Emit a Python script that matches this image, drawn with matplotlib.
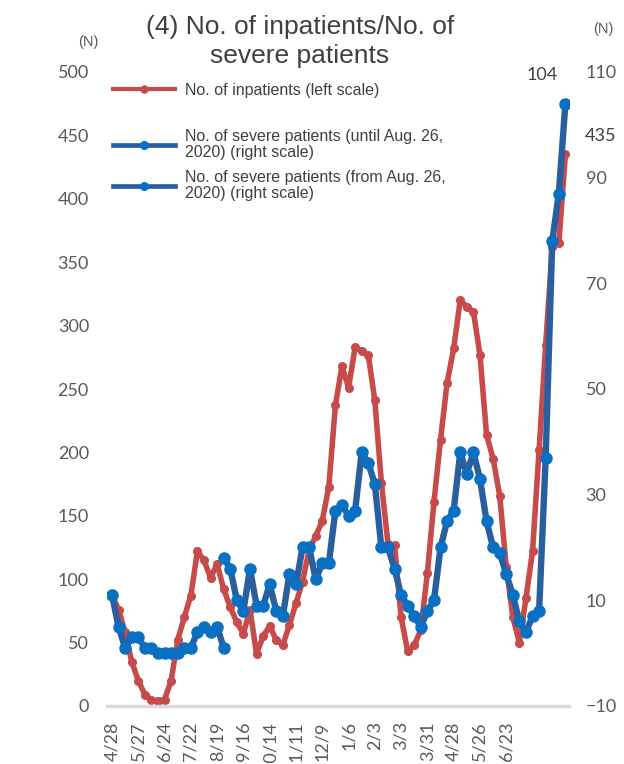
import matplotlib.pyplot as plt
from matplotlib.lines import Line2D

# weekly data, 4/28/2020 -> late Aug 2021 (70 weeks)
weeks = list(range(70))
tick_pos = list(range(0, 61, 4))
tick_labels = ['4/28', '5/27', '6/24', '7/22', '8/19', '9/16', '10/14', '11/11',
               '12/9', '1/6', '2/3', '3/3', '3/31', '4/28', '5/26', '6/23']

# No. of inpatients (left scale)
inpatients = [88, 76, 58, 35, 20, 9, 5, 4, 5, 20,
              52, 70, 87, 122, 115, 101, 112, 92, 78, 66,
              57, 76, 41, 55, 63, 52, 48, 64, 81, 98,
              123, 134, 146, 173, 237, 268, 251, 283, 280, 277,
              241, 176, 128, 127, 70, 43, 48, 60, 105, 161,
              210, 255, 282, 320, 315, 311, 277, 214, 195, 166,
              110, 70, 50, 85, 122, 202, 285, 362, 365, 435]

# severe patients, old definition (until Aug. 26, 2020) -> weeks 0..17
severe_old_weeks = list(range(0, 18))
severe_old = [11, 5, 1, 3, 3, 1, 1, 0, 0, 0, 0, 1, 1, 4, 5, 4, 5, 1]

# severe patients, new definition (from Aug. 26, 2020) -> weeks 17..69
severe_new_weeks = list(range(17, 70))
severe_new = [18, 16, 10, 8, 16, 9, 9, 13, 8, 7,
              15, 13, 20, 20, 14, 17, 17, 27, 28, 26,
              27, 38, 36, 32, 20, 20, 16, 11, 9, 7,
              5, 8, 10, 20, 25, 27, 38, 34, 38, 33,
              25, 20, 19, 15, 11, 6, 4, 7, 8, 37,
              78, 87, 104]

red = '#C64B4A'
blue_line = '#2A5F9F'
blue_mark = '#0A70C4'
grey = '#595959'
sans = ['Liberation Sans', 'DejaVu Sans']
num_font = ['Lato', 'DejaVu Sans']

fig = plt.figure(figsize=(6.24, 7.64), dpi=100)
ax = fig.add_axes([107 / 624, 58 / 764, 462 / 624, 634 / 764])
ax2 = ax.twinx()

ax.plot(weeks, inpatients, color=red, lw=4, marker='o', ms=5.5,
        mfc=red, mec=red, solid_joinstyle='round', zorder=2)
ax2.plot(severe_old_weeks, severe_old, color=blue_line, lw=4.6, marker='o', ms=8,
         mfc=blue_mark, mec=blue_mark, solid_joinstyle='round', zorder=3)
ax2.plot(severe_new_weeks, severe_new, color=blue_line, lw=4.6, marker='o', ms=8,
         mfc=blue_mark, mec=blue_mark, solid_joinstyle='round', zorder=3)

ax.set_xlim(-0.76, 69.55)
ax.set_ylim(0, 500)
ax2.set_ylim(-10, 110)
ax.set_yticks(range(0, 501, 50))
ax2.set_yticks(range(-10, 111, 20))
ax.set_xticks(tick_pos)
ax.set_xticklabels(tick_labels, rotation=90, family=num_font, fontsize=13, color=grey)

for a in (ax, ax2):
    for s in ('top', 'left', 'right', 'bottom'):
        a.spines[s].set_visible(False)
ax.spines['bottom'].set_visible(True)
ax.spines['bottom'].set_color('#D9D9D9')
ax.spines['bottom'].set_linewidth(2.5)

ax.tick_params(axis='x', length=0, pad=11)
ax.tick_params(axis='y', length=0, pad=13)
ax2.tick_params(axis='y', length=0, pad=12)
for t in ax.get_yticklabels() + ax2.get_yticklabels():
    t.set_family(num_font)
    t.set_fontsize(13)
    t.set_color(grey)

# data labels on the last points
ax2.annotate('104', xy=(severe_new_weeks[-1], severe_new[-1]), xytext=(-17, 21),
             textcoords='offset points', ha='center', va='center',
             family=num_font, fontsize=13, color='#404040')
ax.annotate(str(inpatients[-1]), xy=(weeks[-1], inpatients[-1]), xytext=(25, 13),
            textcoords='offset points', ha='center', va='center',
            family=num_font, fontsize=13, color='#404040')

# legends
h_red = [Line2D([], [], color=red, lw=3, marker='o', ms=5, mfc=red, mec=red)]
leg1 = ax2.legend(h_red, ['No. of inpatients (left scale)'], loc='center left',
                  bbox_to_anchor=(113 / 624, 1 - 90 / 764), bbox_transform=fig.transFigure,
                  frameon=False, borderpad=0, borderaxespad=0, handlelength=3.9,
                  handletextpad=0.6, prop={'family': sans, 'size': 11.5})
ax2.add_artist(leg1)
h_blue = [Line2D([], [], color=blue_line, lw=3.4, marker='o', ms=5.5,
                 mfc=blue_mark, mec=blue_mark) for _ in range(2)]
leg2 = ax2.legend(h_blue, ['No. of severe patients (until Aug. 26,\n2020) (right scale)',
                           'No. of severe patients (from Aug. 26,\n2020) (right scale)'],
                  loc='center left', bbox_to_anchor=(113 / 624, 1 - 165 / 764),
                  bbox_transform=fig.transFigure, frameon=False, borderpad=0,
                  borderaxespad=0, handlelength=3.9, handletextpad=0.6,
                  labelspacing=0.6, prop={'family': sans, 'size': 11.5})
for leg in (leg1, leg2):
    for t in leg.get_texts():
        t.set_color('#404040')
        t.set_linespacing(1.1)

fig.text(300 / 624, 1 - 41.5 / 764, '(4) No. of inpatients/No. of\nsevere patients',
         ha='center', va='center', family=sans, fontsize=19, color='#404040',
         linespacing=1.22)
fig.text(88 / 624, 1 - 42 / 764, '(N)', ha='center', va='center', family=sans,
         fontsize=10.5, color=grey)
fig.text(603 / 624, 1 - 29 / 764, '(N)', ha='center', va='center', family=sans,
         fontsize=10.5, color=grey)

fig.savefig('out.png', dpi=100)
